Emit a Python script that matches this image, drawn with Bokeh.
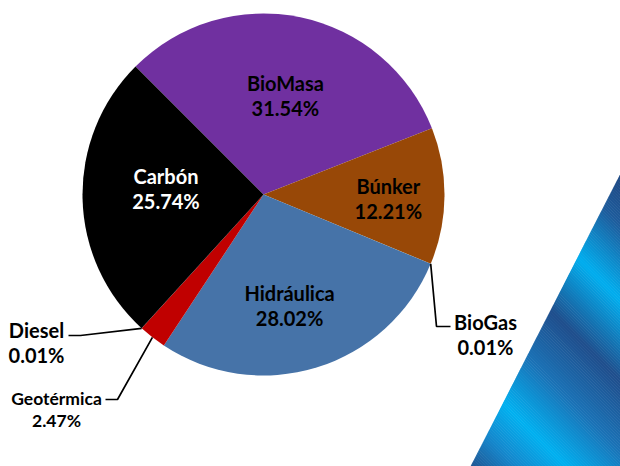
import numpy as np
from bokeh.plotting import figure
from bokeh.models import Range1d
from bokeh.core.properties import value
from bokeh.embed import file_html
from bokeh.resources import INLINE

# ---- data ----
categories = ["BioMasa", "Búnker", "BioGas", "Hidráulica", "Geotérmica", "Diesel", "Carbón"]
shares = [31.54, 12.21, 0.01, 28.02, 2.47, 0.01, 25.74]
colors = ["#7030A0", "#984807", "#9BBB59", "#4673A8", "#C00000", "#7F7F7F", "#000000"]
first_slice_angle = 315  # degrees, clockwise from 12 o'clock

# ---- layout (pixel coordinates of the page) ----
W, H = 620, 466
def Y(py):
    return H - np.asarray(py, dtype=float)

cx, cy, r = 263, 194, 181

p = figure(width=W, height=H, x_range=Range1d(0, W), y_range=Range1d(0, H),
           output_backend="svg", toolbar_location=None, min_border=0,
           x_axis_location=None, y_axis_location=None)
p.grid.visible = False
p.outline_line_color = None
p.background_fill_color = "white"
p.border_fill_color = "white"

# ---- decorative gradient stripe (lower right) ----
def clip(poly, clipper):
    """Sutherland-Hodgman clip of poly by convex clipper (both lists of (x,y))."""
    def inside(pt, a, b):
        return (b[0] - a[0]) * (pt[1] - a[1]) - (b[1] - a[1]) * (pt[0] - a[0]) >= 0
    def inter(p1, p2, a, b):
        x1, y1 = p1; x2, y2 = p2; x3, y3 = a; x4, y4 = b
        d = (x1 - x2) * (y3 - y4) - (y1 - y2) * (x3 - x4)
        t = ((x1 - x3) * (y3 - y4) - (y1 - y3) * (x3 - x4)) / d
        return (x1 + t * (x2 - x1), y1 + t * (y2 - y1))
    out = poly
    n = len(clipper)
    for i in range(n):
        a, b = clipper[i], clipper[(i + 1) % n]
        inp, out = out, []
        if not inp:
            break
        s = inp[-1]
        for e in inp:
            if inside(e, a, b):
                if not inside(s, a, b):
                    out.append(inter(s, e, a, b))
                out.append(e)
            elif inside(s, a, b):
                out.append(inter(s, e, a, b))
            s = e
    return out

slope = 293 / 150
tri = [(470 - 7 / slope, 473), (630, 466 - 160 * slope), (630, 473)]
area = sum(tri[i][0] * tri[(i + 1) % 3][1] - tri[(i + 1) % 3][0] * tri[i][1] for i in range(3))
if area < 0:
    tri = tri[::-1]

stops_g = [-500, -440, -395, -320, -240, -170, -100, -50, -5, 40]
stops_c = ["#1F4A85", "#1F4A85", "#1E5C9C", "#00AEEF", "#1F4E8C", "#1A72B6", "#00B0F0", "#1586CB", "#1F5592", "#1F5592"]
def hex2rgb(h):
    return np.array([int(h[i:i + 2], 16) for i in (1, 3, 5)], dtype=float)
rgbs = np.array([hex2rgb(c) for c in stops_c])
step = 3
bx, by, bc = [], [], []
for c in np.arange(-500, 40, step):
    g = c + step / 2
    col = [np.interp(g, stops_g, rgbs[:, k]) for k in range(3)]
    x0, x1 = 400, 680
    quad = [(x0, x0 + c), (x1, x1 + c), (x1, x1 + c + step + 0.6), (x0, x0 + c + step + 0.6)]
    pl = clip(quad, tri)
    if len(pl) < 3:
        continue
    bc.append("#%02x%02x%02x" % tuple(int(round(v)) for v in col))
    bx.append([q[0] for q in pl])
    by.append(list(Y([q[1] for q in pl])))
p.patches(bx, by, fill_color=bc, line_color=None)

# ---- pie ----
cum = np.cumsum([0] + shares[:-1])
starts_cw = first_slice_angle + np.array(cum) * 3.6
ends_cw = starts_cw + np.array(shares) * 3.6
mids_cw = (starts_cw + ends_cw) / 2
p.wedge(x=cx, y=float(Y(cy)), radius=r,
        start_angle=list(np.radians(90 - ends_cw)), end_angle=list(np.radians(90 - starts_cw)),
        fill_color=colors, line_color=None)

def polar(angle_cw, rad):
    a = np.radians(angle_cw)
    return cx + rad * np.sin(a), cy - rad * np.cos(a)

# inside labels: (radial factor, angle tweak)
inside = {"BioMasa": (0.56, 0.7), "Búnker": (0.69, 1.3), "Hidráulica": (0.63, 3.8), "Carbón": (0.54, 4.9)}
ix, iy, it, icol = [], [], [], []
for i, name in enumerate(categories):
    if name in inside:
        f, da = inside[name]
        x, y = polar(mids_cw[i] + da, r * f)
        ix.append(x); iy.append(float(Y(y)))
        it.append(f"{name}\n{shares[i]:.2f}%")
        icol.append("white" if name == "Carbón" else "black")
p.text(x=ix, y=iy, text=it, text_align="center", text_baseline="middle",
       text_font=value("Lato"), text_font_style="bold", text_font_size="20px",
       text_line_height=1.05, text_color=icol)

# outside labels with leader lines
outside = {
    "BioGas": dict(t=(485, 334), knee=(436, 326), end=(450, 326), size="20px"),
    "Diesel": dict(t=(36, 342), knee=(80, 335), end=(68, 335), size="20px"),
    "Geotérmica": dict(t=(56, 409), knee=(117, 399), end=(105, 399), size="17.5px"),
}
for i, name in enumerate(categories):
    if name in outside:
        o = outside[name]
        sx, sy = polar(mids_cw[i], r)
        lx = [sx, o["knee"][0], o["end"][0]]
        ly = list(Y([sy, o["knee"][1], o["end"][1]]))
        p.line(lx, ly, line_color="black", line_width=1.7)
        p.text(x=[o["t"][0]], y=[float(Y(o["t"][1]))], text=[f"{name}\n{shares[i]:.2f}%"],
               text_align="center", text_baseline="middle",
               text_font=value("Lato"), text_font_style="bold", text_font_size=o["size"],
               text_line_height=1.05, text_color="black")

open("out.html", "w").write(file_html(p, INLINE))
